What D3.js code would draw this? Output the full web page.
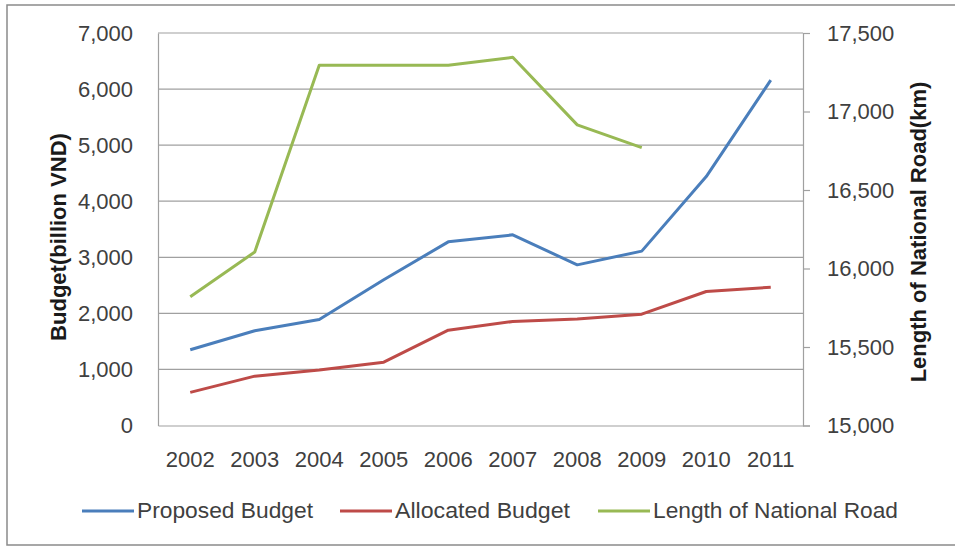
<!DOCTYPE html>
<html><head><meta charset="utf-8">
<script src="https://cdn.jsdelivr.net/npm/d3@7"></script>
<style>body{margin:0;background:#fff;} svg{display:block;}</style>
</head><body>
<svg id="chart" width="955" height="547"></svg>
<script>
const years = ["2002","2003","2004","2005","2006","2007","2008","2009","2010","2011"];
const proposedBudget = [1350, 1690, 1890, 2600, 3275, 3400, 2865, 3110, 4440, 6160];
const allocatedBudget = [590, 880, 990, 1130, 1700, 1855, 1900, 1985, 2390, 2465];
const roadLength = [15820, 16105, 17295, 17295, 17295, 17345, 16915, 16770, null, null];
const leftTicks = [0,1000,2000,3000,4000,5000,6000,7000];
const rightTicks = [15000,15500,16000,16500,17000,17500];
const seriesNames = ["Proposed Budget","Allocated Budget","Length of National Road"];
const colors = ["#4A7EBB","#BE4B48","#98B954"];

const svg = d3.select("#chart");
const L=158, R=803, T=33, B=425.5;
const font = "'Liberation Sans', Arial, sans-serif";

svg.append("rect").attr("x",7).attr("y",5).attr("width",960).attr("height",540)
  .attr("fill","#fff").attr("stroke","#8a8a8a").attr("stroke-width",1.5);

const x = d3.scaleBand().domain(years).range([L,R]);
const yL = d3.scaleLinear().domain([0,7000]).range([B,T]);
const yR = d3.scaleLinear().domain([15000,17500]).range([B,T]);

// gridlines
svg.append("g").selectAll("line").data(leftTicks.filter(d=>d>0)).join("line")
  .attr("x1",L).attr("x2",R).attr("y1",d=>yL(d)).attr("y2",d=>yL(d))
  .attr("stroke","#a0a0a0").attr("stroke-width",1.2);

// left axis
const gl = svg.append("g").attr("transform",`translate(${L},0)`)
  .call(d3.axisLeft(yL).tickValues(leftTicks).tickSize(0).tickPadding(25).tickFormat(d3.format(",")));
gl.select(".domain").attr("stroke","#a0a0a0").attr("stroke-width",1.2);
gl.selectAll("text").attr("font-family",font).attr("font-size",22).attr("fill","#404040");

// right axis
const gr = svg.append("g").attr("transform",`translate(${R},0)`)
  .call(d3.axisRight(yR).tickValues(rightTicks).tickSize(7).tickPadding(17).tickFormat(d3.format(",")));
gr.select(".domain").attr("stroke","#a0a0a0").attr("stroke-width",1.2);
gr.selectAll(".tick line").attr("stroke","#a0a0a0").attr("stroke-width",1.2);
gr.selectAll("text").attr("font-family",font).attr("font-size",22).attr("fill","#404040");

// bottom axis
const gb = svg.append("g").attr("transform",`translate(0,${B})`)
  .call(d3.axisBottom(x).tickSize(0).tickPadding(26));
gb.select(".domain").attr("stroke","#a0a0a0").attr("stroke-width",1.2);
gb.selectAll("text").attr("font-family",font).attr("font-size",22).attr("fill","#404040");

// axis titles
svg.append("text").attr("transform","translate(66,237) rotate(-90)")
  .attr("text-anchor","middle").attr("font-family",font).attr("font-weight","bold")
  .attr("font-size",22).attr("fill","#1a1a1a").text("Budget(billion VND)");
svg.append("text").attr("transform","translate(926,232) rotate(-90)")
  .attr("text-anchor","middle").attr("font-family",font).attr("font-weight","bold")
  .attr("font-size",22).attr("fill","#1a1a1a").text("Length of National Road(km)");

const cx = d => x(d)+x.bandwidth()/2;
const lineL = d3.line().x((d,i)=>cx(years[i])).y(d=>yL(d));
const lineR = d3.line().defined(d=>d!=null).x((d,i)=>cx(years[i])).y(d=>yR(d));

svg.append("path").datum(proposedBudget).attr("d",lineL).attr("fill","none")
  .attr("stroke",colors[0]).attr("stroke-width",3).attr("stroke-linejoin","round");
svg.append("path").datum(allocatedBudget).attr("d",lineL).attr("fill","none")
  .attr("stroke",colors[1]).attr("stroke-width",3).attr("stroke-linejoin","round");
svg.append("path").datum(roadLength).attr("d",lineR).attr("fill","none")
  .attr("stroke",colors[2]).attr("stroke-width",3).attr("stroke-linejoin","round");

// legend
const legX = [82, 340, 598];
const legW = [176, 175, 245];
const lg = svg.append("g");
seriesNames.forEach((n,i)=>{
  lg.append("line").attr("x1",legX[i]).attr("x2",legX[i]+52).attr("y1",511).attr("y2",511)
    .attr("stroke",colors[i]).attr("stroke-width",3);
  lg.append("text").attr("x",legX[i]+55).attr("y",518).attr("font-family",font)
    .attr("font-size",22).attr("fill","#404040")
    .attr("textLength",legW[i]).attr("lengthAdjust","spacingAndGlyphs").text(n);
});
</script>
</body></html>
